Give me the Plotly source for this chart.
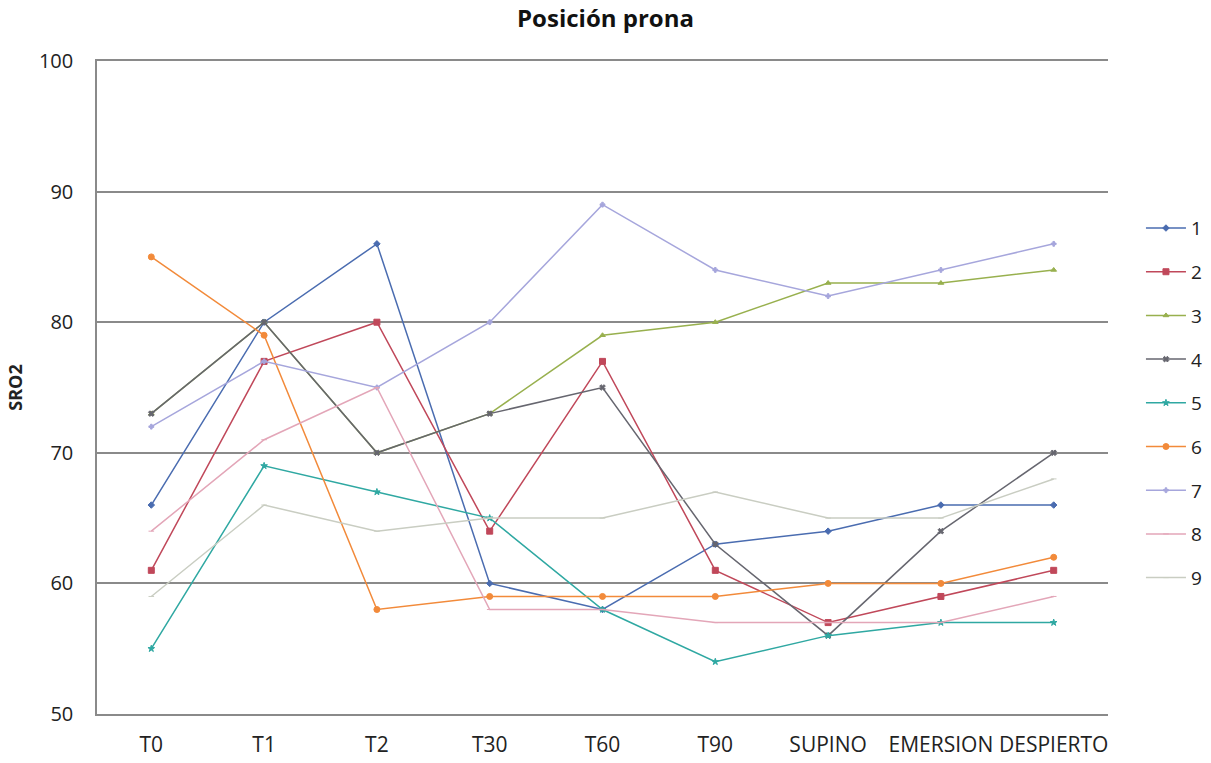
import plotly.graph_objects as go

# Time points along the procedure
categories = ["T0", "T1", "T2", "T30", "T60", "T90", "SUPINO", "EMERSION", "DESPIERTO"]

# SRO2 readings per patient
p1 = [66, 80, 86, 60, 58, 63, 64, 66, 66]
p2 = [61, 77, 80, 64, 77, 61, 57, 59, 61]
p3 = [73, 80, 70, 73, 79, 80, 83, 83, 84]
p4 = [73, 80, 70, 73, 75, 63, 56, 64, 70]
p5 = [55, 69, 67, 65, 58, 54, 56, 57, 57]
p6 = [85, 79, 58, 59, 59, 59, 60, 60, 62]
p7 = [72, 77, 75, 80, 89, 84, 82, 84, 86]
p8 = [64, 71, 75, 58, 58, 57, 57, 57, 59]
p9 = [59, 66, 64, 65, 65, 67, 65, 65, 68]

series_names = ["1", "2", "3", "4", "5", "6", "7", "8", "9"]
series_values = [p1, p2, p3, p4, p5, p6, p7, p8, p9]

y_ticks = [50, 60, 70, 80, 90, 100]

colors = ["#4a6cb0", "#c0485a", "#98b04e", "#66666f", "#2fa8a2",
          "#f28a3a", "#a6a6dc", "#e3a6b8", "#c9cdc2"]
symbols = ["diamond", "square", "triangle-up", "x", "star",
           "circle", "cross", "line-ew", "line-ew"]
marker_sizes = [5, 6, 5, 5, 5, 6, 4, 4, 4]

FONT = "'Open Sans', 'Noto Sans', Arial, sans-serif"

fig = go.Figure()
for name, vals, col, sym, ms in zip(series_names, series_values, colors, symbols, marker_sizes):
    fig.add_trace(go.Scatter(
        x=categories, y=vals, name=name, mode="lines+markers",
        legendgroup=name,
        line=dict(color=col, width=1.5),
        marker=dict(color=col, symbol=sym, size=ms,
                    line=dict(color=col, width=1)),
    ))

fig.update_layout(
    width=1211, height=763,
    margin=dict(l=97, r=103, t=61, b=49, autoexpand=False),
    paper_bgcolor="white", plot_bgcolor="white",
    font=dict(family=FONT, size=18, color="#222222"),
    title=dict(text="<b>Posición prona</b>", x=0.5, xanchor="center",
               y=0.975, yanchor="middle", font=dict(size=24, color="#111111")),
    showlegend=True,
    legend=dict(x=1.0326, xanchor="left", y=0.476, yanchor="middle",
                font=dict(size=19, color="#222222"),
                tracegroupgap=16, itemwidth=40, bgcolor="rgba(0,0,0,0)"),
)

fig.update_xaxes(
    type="category", showgrid=False, showline=True, mirror=True,
    linecolor="#8a8a8a", linewidth=1.5, ticks="",
    tickfont=dict(size=21), ticklabelstandoff=11,
)
fig.update_yaxes(
    range=[50, 100], tickvals=y_ticks, showgrid=True, gridcolor="#8a8a8a",
    gridwidth=1.5, showline=True, linecolor="#8a8a8a", linewidth=1.5,
    zeroline=False, ticks="", tickfont=dict(size=20), ticklabelstandoff=18,
    title=dict(text="<b>SRO2</b>", font=dict(size=18), standoff=12),
)

fig.write_html("out.html")
